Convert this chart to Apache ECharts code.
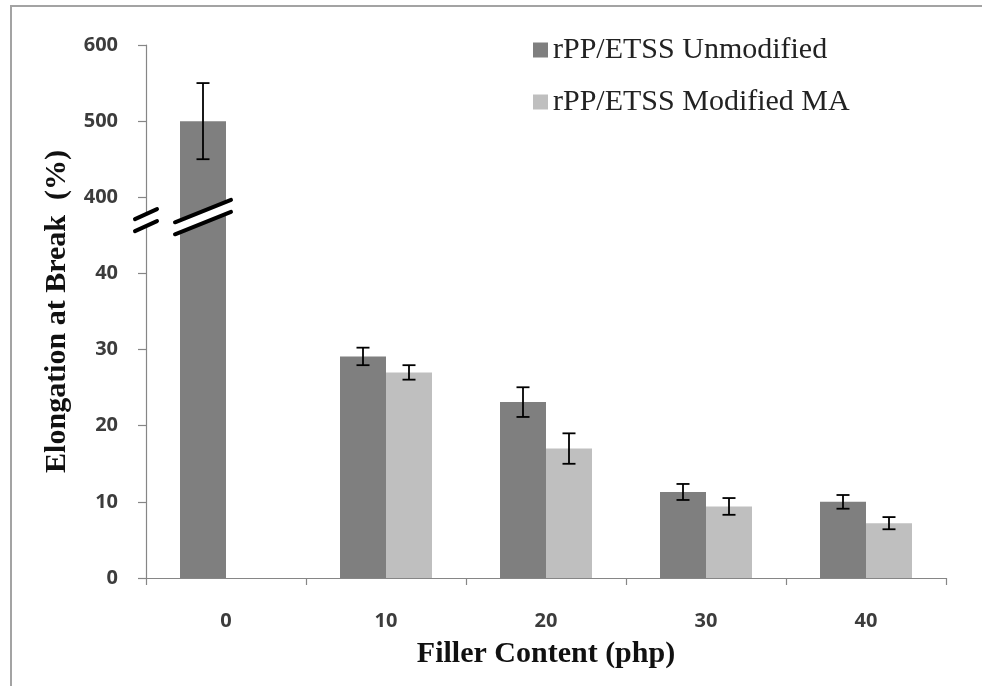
<!DOCTYPE html>
<html><head><meta charset="utf-8">
<script src="https://cdn.jsdelivr.net/npm/echarts@6/dist/echarts.min.js"></script>
<style>html,body{margin:0;padding:0;background:#fff}#c{width:982px;height:686px}</style>
</head><body><div id="c"></div>
<script>
// ---- data ----
const categories = ['0', '10', '20', '30', '40'];
const seriesNames = ['rPP/ETSS Unmodified', 'rPP/ETSS Modified MA'];
const unmodified = [500, 29.1, 23.1, 11.3, 10.0];
const unmodifiedErr = [50, 1.15, 1.95, 1.05, 0.9];
const modified = [null, 27.0, 17.0, 9.4, 7.2];
const modifiedErr = [null, 0.95, 2.0, 1.1, 0.8];
const yTickLabels = ['0', '10', '20', '30', '40', '400', '500', '600'];

// ---- broken axis: 0–40 linear, then 400–600 at 1/10 scale above the break ----
function tf(v) { if (v == null) return null; return v <= 40 ? v : 50 + (v - 400) / 10; }
const BAR_FRAC = 0.2875;
const BREAK_AXIS = 47.0, BREAK_BAR = 47.4;

function errData(vals, errs) {
  const out = [];
  vals.forEach((v, i) => { if (v != null) out.push([i, tf(v - errs[i]), tf(v + errs[i])]); });
  return out;
}
function errRender(side) {
  return function (params, api) {
    const i = api.value(0);
    const lo = api.coord([i, api.value(1)]);
    const hi = api.coord([i, api.value(2)]);
    const band = api.size([1, 0])[0];
    const x = lo[0] + side * band * BAR_FRAC / 2;
    const cap = 6.5;
    const st = { stroke: '#000', lineWidth: 1.8 };
    return { type: 'group', children: [
      { type: 'line', shape: { x1: x, y1: lo[1], x2: x, y2: hi[1] }, style: st },
      { type: 'line', shape: { x1: x - cap, y1: hi[1], x2: x + cap, y2: hi[1] }, style: st },
      { type: 'line', shape: { x1: x - cap, y1: lo[1], x2: x + cap, y2: lo[1] }, style: st }
    ]};
  };
}

const numFont = { fontFamily: 'Open Sans', fontWeight: 'bold', fontSize: 20, color: '#3c3c3c' };
const titleFont = { fontFamily: 'Liberation Serif', fontWeight: 'bold', fontSize: 30, color: '#111' };
const axisGray = '#868686';

const chart = echarts.init(document.getElementById('c'), null, { renderer: 'canvas' });
chart.setOption({
  animation: false,
  backgroundColor: '#fff',
  grid: { left: 146, right: 36, top: 45, bottom: 108, containLabel: false, outerBoundsMode: 'none' },
  legend: {
    orient: 'vertical', left: 528, top: 29,
    data: seriesNames, icon: 'rect', itemWidth: 15, itemHeight: 15, itemGap: 20,
    textStyle: { fontFamily: 'Liberation Serif', fontSize: 30, color: '#222', lineHeight: 32 }
  },
  xAxis: {
    type: 'category', data: categories,
    axisLine: { show: true, lineStyle: { color: axisGray, width: 1.2 } },
    axisTick: { show: true, length: 7, lineStyle: { color: axisGray, width: 1.2 } },
    axisLabel: Object.assign({ margin: 33 }, numFont),
    name: 'Filler Content (php)', nameLocation: 'middle', nameGap: 61,
    nameTextStyle: titleFont
  },
  yAxis: {
    type: 'value', min: 0, max: 70, interval: 10,
    splitLine: { show: false },
    axisLine: { show: true, lineStyle: { color: axisGray, width: 1.2 } },
    axisTick: { show: true, length: 8, lineStyle: { color: axisGray, width: 1.2 } },
    axisLabel: Object.assign({ margin: 28, formatter: v => yTickLabels[Math.round(v / 10)] }, numFont),
    name: 'Elongation at Break  (%)', nameLocation: 'middle', nameRotate: 90, nameGap: 74,
    nameTextStyle: titleFont
  },
  series: [
    { name: seriesNames[0], type: 'bar', data: unmodified.map(tf), barWidth: (BAR_FRAC * 100) + '%', barGap: '0%',
      itemStyle: { color: '#7f7f7f' }, z: 2 },
    { name: seriesNames[1], type: 'bar', data: modified.map(tf), barWidth: (BAR_FRAC * 100) + '%', barGap: '0%',
      itemStyle: { color: '#bfbfbf' }, z: 2 },
    { name: 'errU', type: 'custom', renderItem: errRender(-1), data: errData(unmodified, unmodifiedErr),
      encode: { x: 0, y: [1, 2] }, z: 5 },
    { name: 'errM', type: 'custom', renderItem: errRender(1), data: errData(modified, modifiedErr),
      encode: { x: 0, y: [1, 2] }, z: 5 }
  ]
});

// ---- break marks and frame, positioned through the axes ----
function breakMark(cx, cy, halfW, slope, gap) {
  const seg = dy => [[cx - halfW, cy + dy + slope * halfW], [cx + halfW, cy + dy - slope * halfW]];
  const u = seg(-gap / 2), l = seg(gap / 2);
  const ls = { stroke: '#000', lineWidth: 4, lineCap: 'round' };
  return [
    { type: 'polygon', shape: { points: [u[0], u[1], l[1], l[0]] }, style: { fill: '#fff' }, z: 100 },
    { type: 'line', shape: { x1: u[0][0], y1: u[0][1], x2: u[1][0], y2: u[1][1] }, style: ls, z: 101 },
    { type: 'line', shape: { x1: l[0][0], y1: l[0][1], x2: l[1][0], y2: l[1][1] }, style: ls, z: 101 }
  ];
}
const c0 = chart.convertToPixel({ xAxisIndex: 0 }, 0);
const c1 = chart.convertToPixel({ xAxisIndex: 0 }, 1);
const band = c1 - c0;
const axisX = c0 - band / 2;
const barX = c0 - band * BAR_FRAC / 2;
const yAxisBreak = chart.convertToPixel({ yAxisIndex: 0 }, BREAK_AXIS);
const yBarBreak = chart.convertToPixel({ yAxisIndex: 0 }, BREAK_BAR);
const els = [].concat(
  breakMark(axisX, yAxisBreak, 11, 0.45, 12),
  breakMark(barX, yBarBreak, band * BAR_FRAC / 2 + 5, 0.4, 12),
  [{ type: 'rect', shape: { x: 11, y: 6, width: 1000, height: 720 },
     style: { fill: null, stroke: '#a3a3a3', lineWidth: 2 }, z: 0, silent: true }]
);
chart.setOption({ graphic: { elements: els } });
</script>
</body></html>
